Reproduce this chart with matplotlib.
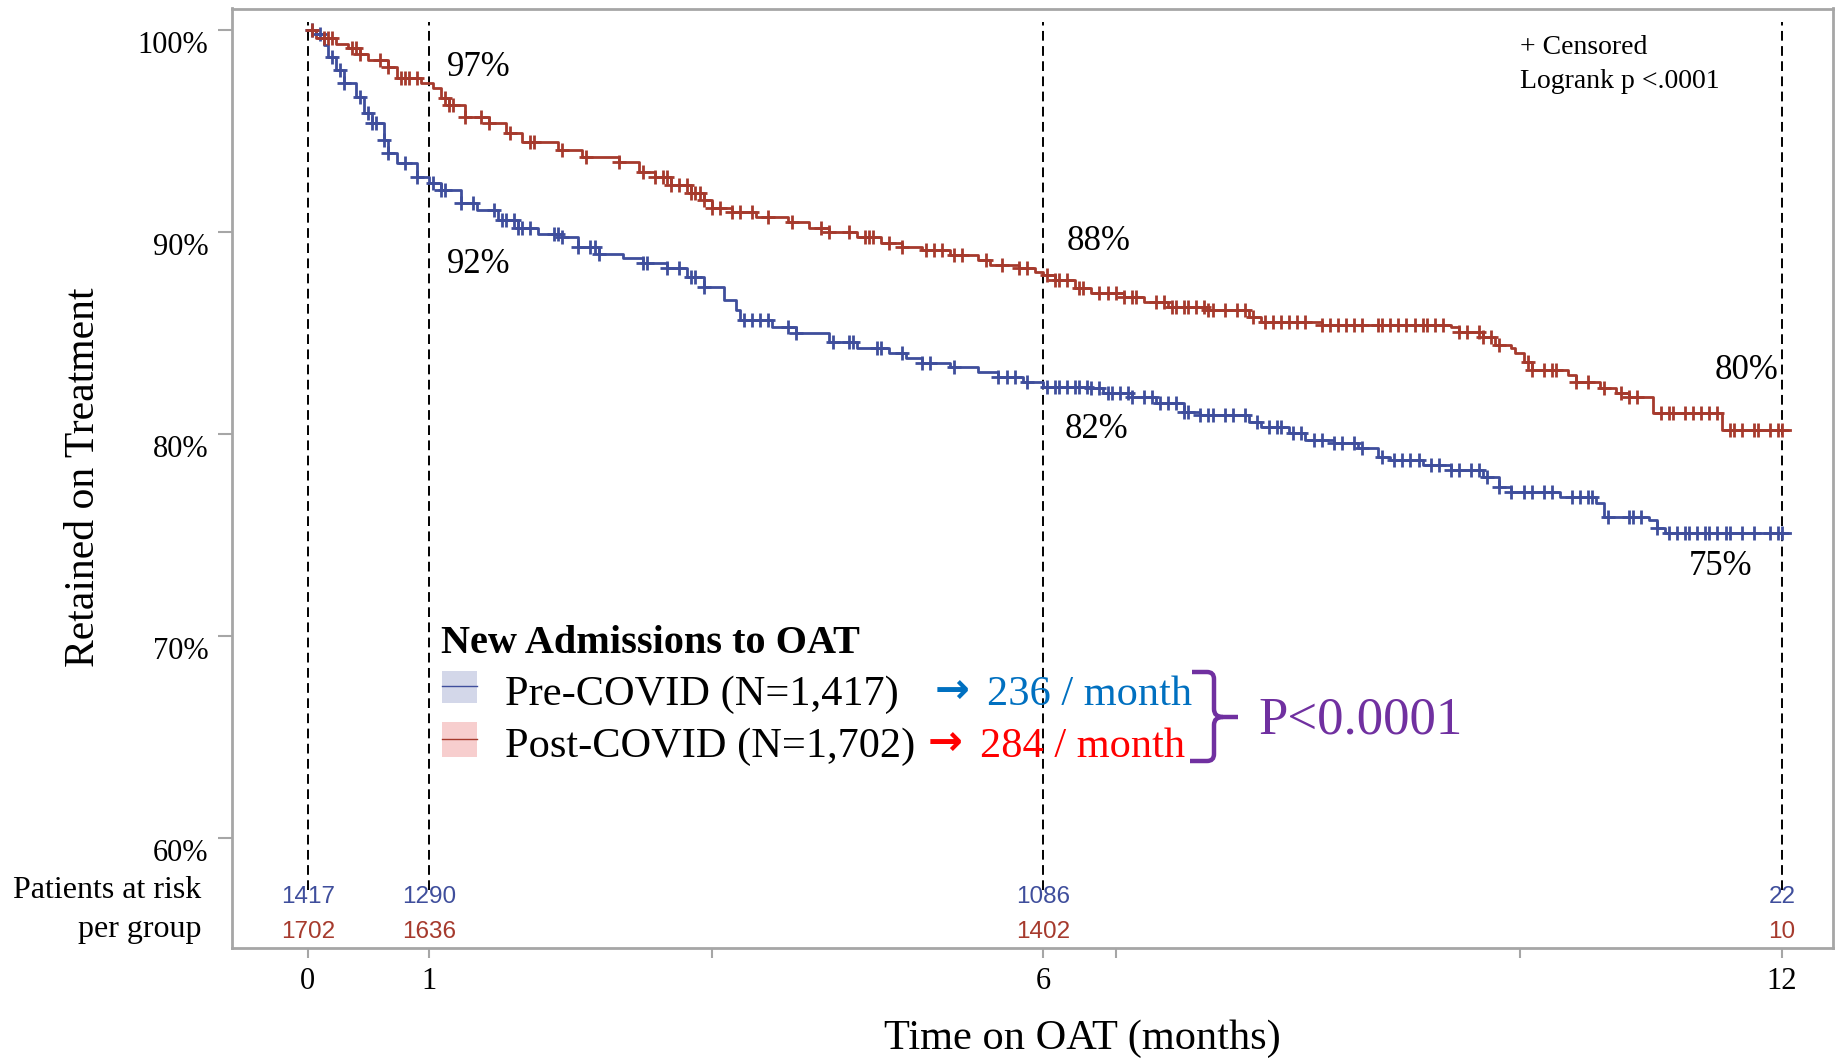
import numpy as np
import matplotlib
matplotlib.use("Agg")
import matplotlib.pyplot as plt
from matplotlib.path import Path
from matplotlib.patches import PathPatch, Rectangle
import matplotlib.transforms as mtransforms

# ---------------- data (time in days, survival in %) ----------------
pre_event_t = [2, 4, 5, 7, 9, 12, 14, 16, 19, 20, 22, 27, 30, 33, 38, 42, 47, 52, 57, 63,
               67, 72, 78, 83, 89, 94, 98, 103, 106, 107, 115, 121, 129, 136, 144, 148,
               152, 159, 166, 171, 177, 182, 194, 197, 204, 210, 217, 221, 233, 236, 243,
               247, 254, 260, 265, 268, 276, 283, 291, 295, 298, 310, 319, 321, 332, 334, 336]
pre_surv = [99.8, 99.23, 98.65, 97.99, 97.34, 96.67, 95.86, 95.37, 94.53, 93.88, 93.39,
            92.70, 92.4, 92.05, 91.4, 91.06, 90.57, 90.17, 89.9, 89.73, 89.23, 88.9, 88.7,
            88.44, 88.19, 87.76, 87.27, 86.6, 86.11, 85.62, 85.29, 84.96, 84.55, 84.23,
            83.98, 83.73, 83.49, 83.3, 83.06, 82.81, 82.56, 82.32, 82.25, 82.0, 81.82, 81.5,
            81.08, 80.92, 80.58, 80.34, 80.02, 79.68, 79.53, 79.28, 78.85, 78.69, 78.44,
            78.19, 77.86, 77.37, 77.12, 76.87, 76.55, 75.88, 75.72, 75.32, 75.07]
pre_cens_t = [1, 3, 6, 8, 9, 13, 15, 16, 17, 19, 20, 24, 27, 31, 33, 34, 38, 41, 46, 48, 49,
              51, 52, 53, 55, 61, 62, 63, 67, 70, 71, 72, 83, 84, 89, 92, 95, 96, 98, 108,
              110, 112, 114, 119, 121, 130, 134, 135, 141, 142, 147, 152, 154, 160, 171,
              173, 175, 178, 183, 185, 186, 188, 190, 191, 193, 194, 196, 198, 199, 201,
              203, 204, 207, 209, 211, 213, 215, 217, 218, 221, 223, 224, 227, 229, 232,
              235, 238, 240, 241, 244, 246, 249, 251, 254, 256, 259, 261, 266, 269, 271,
              273, 275, 278, 280, 283, 285, 288, 290, 292, 295, 298, 301, 303, 306, 308,
              313, 315, 317, 318, 322, 327, 328, 330, 334, 337, 339, 341, 342, 344, 346,
              347, 349, 351, 352, 355, 358, 362, 364, 365]

post_event_t = [2, 7, 10, 13, 15, 20, 22, 28, 31, 33, 35, 39, 45, 49, 53, 62, 68, 77, 82, 86,
                90, 95, 98, 100, 105, 111, 119, 124, 129, 136, 142, 147, 152, 159, 166, 169,
                176, 180, 182, 185, 190, 194, 202, 207, 213, 223, 233, 236, 251, 283, 285,
                291, 294, 298, 299, 301, 303, 312, 314, 320, 324, 327, 333, 350]
post_surv = [99.6, 99.28, 99.07, 98.8, 98.49, 98.16, 97.58, 97.34, 97.09, 96.6, 96.26, 95.68,
             95.37, 94.87, 94.45, 94.03, 93.70, 93.46, 92.96, 92.71, 92.3, 91.9, 91.56,
             91.16, 90.98, 90.73, 90.49, 90.17, 90.0, 89.74, 89.43, 89.25, 89.08, 88.84,
             88.59, 88.34, 88.19, 88.0, 87.85, 87.6, 87.2, 86.94, 86.77, 86.52, 86.28,
             86.11, 85.78, 85.54, 85.37, 85.29, 85.04, 84.79, 84.38, 84.23, 83.98, 83.55,
             83.14, 82.9, 82.56, 82.25, 82.0, 81.82, 81.0, 80.17]
post_cens_t = [1, 4, 5, 6, 11, 12, 13, 18, 20, 23, 24, 25, 27, 34, 35, 36, 39, 43, 45, 50,
               55, 56, 63, 69, 77, 83, 86, 88, 89, 90, 92, 94, 95, 96, 97, 98, 100, 102,
               105, 107, 110, 114, 120, 127, 129, 134, 138, 139, 140, 144, 147, 153, 155,
               157, 160, 162, 168, 172, 176, 178, 183, 185, 186, 188, 191, 192, 196, 198,
               200, 202, 204, 205, 210, 212, 214, 215, 217, 218, 220, 222, 223, 224, 227,
               230, 232, 234, 237, 239, 241, 243, 245, 247, 251, 253, 255, 257, 259, 261,
               265, 266, 268, 270, 272, 274, 276, 277, 279, 281, 285, 287, 290, 291, 293,
               295, 302, 303, 306, 308, 309, 314, 317, 321, 325, 327, 329, 335, 337, 338,
               341, 343, 345, 347, 349, 352, 353, 355, 358, 359, 362, 364, 365]
follow_end = 367

risk_times = [0, 30, 182, 365]
risk_pre = [1417, 1290, 1086, 22]
risk_post = [1702, 1636, 1402, 10]
tick_days = [0, 30, 100, 182, 200, 300, 365]
tick_labels = ["0", "1", "", "6", "", "", "12"]
ref_days = [0, 30, 182, 365]

# ---------------- styling ----------------
W, H = 1835, 1061
BLUE = "#3F4E9C"
RED = "#A63A2D"
SERIF = ["Liberation Serif", "DejaVu Serif"]
SANS = ["Liberation Sans", "DejaVu Sans"]
GRAY = "#A6A6A6"

plt.rcParams["font.family"] = SERIF

fig = plt.figure(figsize=(W / 100, H / 100), dpi=100)
ax = fig.add_axes([232 / W, 1 - 948 / H, (1833 - 232) / W, (948 - 8.5) / H])


def fx(x):
    return x / W


def fy(y):
    return 1 - y / H


def step_curve(t, s, color):
    tt = np.r_[0, t, follow_end]
    ss = np.r_[100, s, s[-1]]
    ax.step(tt, ss, where="post", color=color, lw=2.0, zorder=3)


def cens_pts(t_ev, s_ev, tc):
    t_ev = np.r_[0, t_ev]
    s_ev = np.r_[100, s_ev]
    idx = np.searchsorted(t_ev, tc, side="right") - 1
    return np.asarray(tc), s_ev[idx]


step_curve(pre_event_t, pre_surv, BLUE)
step_curve(post_event_t, post_surv, RED)
cx, cy = cens_pts(pre_event_t, pre_surv, pre_cens_t)
ax.plot(cx, cy, ls="none", marker="+", ms=10.5, mew=2.0, color=BLUE, zorder=4)
cx, cy = cens_pts(post_event_t, post_surv, post_cens_t)
ax.plot(cx, cy, ls="none", marker="+", ms=10.5, mew=2.0, color=RED, zorder=4)

for d in ref_days:
    ax.axvline(d, ymin=(948 - 890) / 939.5, ymax=(948 - 22) / 939.5, color="black",
               lw=1.4, ls=(0, (5, 2.8)), zorder=2)

ax.set_xlim(-18.74, 377.6)
ax.set_ylim(54.53, 101.04)
ax.set_yticks([60, 70, 80, 90, 100])
ax.set_yticklabels(["60%", "70%", "80%", "90%", "100%"])
ax.set_xticks(tick_days)
ax.set_xticklabels(tick_labels)
ax.tick_params(axis="y", length=10, width=1.5, color=GRAY, pad=7, labelsize=22)
ax.tick_params(axis="x", length=7, width=1.5, color=GRAY, pad=7, labelsize=22)
off = mtransforms.ScaledTranslation(0, -12 / 100, fig.dpi_scale_trans)
for lab in ax.get_yticklabels():
    lab.set_transform(lab.get_transform() + off)
for sp in ax.spines.values():
    sp.set_color(GRAY)
    sp.set_linewidth(2)

# percentage annotations
ax.text(34.5, 98.12, "97%", fontsize=25, va="center", ha="left")
ax.text(34.5, 88.37, "92%", fontsize=25, va="center", ha="left")
ax.text(188, 89.53, "88%", fontsize=25, va="center", ha="left")
ax.text(187.5, 80.22, "82%", fontsize=25, va="center", ha="left")
ax.text(364, 83.1, "80%", fontsize=25, va="center", ha="right")
ax.text(342, 73.4, "75%", fontsize=25, va="center", ha="left")

# at risk table
for t, a, b in zip(risk_times, risk_pre, risk_post):
    fig.text(fx(307.7 + 4.039 * t), fy(897), str(a), family=SANS, fontsize=17.5,
             color=BLUE, ha="center", va="center")
    fig.text(fx(307.7 + 4.039 * t), fy(932), str(b), family=SANS, fontsize=17.5,
             color=RED, ha="center", va="center")
fig.text(fx(201), fy(890), "Patients at risk", fontsize=23, ha="right", va="center")
fig.text(fx(201), fy(929), "per group", fontsize=23, ha="right", va="center")

# corner notes
fig.text(fx(1520), fy(47), "+ Censored", fontsize=20, ha="left", va="center")
fig.text(fx(1520), fy(81), "Logrank p <.0001", fontsize=20, ha="left", va="center")

# axis labels
fig.text(fx(84), fy(477), "Retained on Treatment", fontsize=30, rotation=90,
         ha="center", va="center")
fig.text(fx(1082), fy(1039), "Time on OAT (months)", fontsize=30.5, ha="center",
         va="center")

# legend
fig.text(fx(441), fy(653), "New Admissions to OAT", fontsize=29, fontweight="bold",
         ha="left", va="baseline")
fig.patches.append(Rectangle((fx(442), fy(703)), 35 / W, 32 / H, transform=fig.transFigure,
                             facecolor="#D3D7E9", edgecolor="none"))
fig.patches.append(Rectangle((fx(442), fy(757)), 35 / W, 35 / H, transform=fig.transFigure,
                             facecolor="#F7CECE", edgecolor="none"))
fig.add_artist(plt.Line2D([fx(442), fx(477)], [fy(686), fy(686)], transform=fig.transFigure,
                          color=BLUE, lw=1))
fig.add_artist(plt.Line2D([fx(442), fx(477)], [fy(739), fy(739)], transform=fig.transFigure,
                          color=RED, lw=1))
fig.text(fx(505), fy(705), "Pre-COVID (N=1,417)", fontsize=30.5, ha="left", va="baseline")
fig.text(fx(505), fy(757), "Post-COVID (N=1,702)", fontsize=30.5, ha="left", va="baseline")
fig.text(fx(935), fy(703), "\u2192", family=["DejaVu Sans"], fontweight="bold",
         fontsize=30, color="#0070C0", ha="left", va="baseline")
fig.text(fx(987), fy(705), "236 / month", fontsize=30.5, color="#0070C0",
         ha="left", va="baseline")
fig.text(fx(928), fy(755), "\u2192", family=["DejaVu Sans"], fontweight="bold",
         fontsize=30, color="#FF0000", ha="left", va="baseline")
fig.text(fx(980), fy(757), "284 / month", fontsize=30.5, color="#FF0000",
         ha="left", va="baseline")

PURPLE = "#7030A0"
verts = [(1192, 672), (1207, 672), (1214, 672), (1214, 679), (1214, 709), (1214, 717),
         (1223, 717), (1238, 717)]
codes = [Path.MOVETO, Path.LINETO, Path.CURVE3, Path.CURVE3, Path.LINETO, Path.CURVE3,
         Path.CURVE3, Path.LINETO]
verts2 = [(1223, 717), (1214, 717), (1214, 725), (1214, 754), (1214, 761), (1207, 761),
          (1190, 761)]
codes2 = [Path.MOVETO, Path.CURVE3, Path.CURVE3, Path.LINETO, Path.CURVE3, Path.CURVE3,
          Path.LINETO]
for vv, cc in ((verts, codes), (verts2, codes2)):
    p = Path([(fx(a), fy(b)) for a, b in vv], cc)
    fig.add_artist(PathPatch(p, transform=fig.transFigure, facecolor="none",
                             edgecolor=PURPLE, lw=3.2, capstyle="butt"))
fig.text(fx(1258), fy(733), "P<0.0001", fontsize=38, color=PURPLE, ha="left",
         va="baseline")

fig.savefig("out.png", dpi=100)
